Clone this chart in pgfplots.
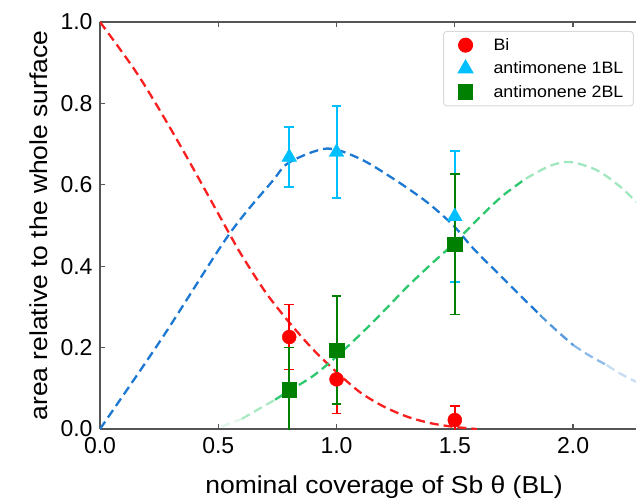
\documentclass[border=0pt]{standalone}
\usepackage{fontspec}
\setmainfont{Liberation Sans}
\newfontfamily\labelfont{Liberation Sans}[FakeStretch=1.08]
\usepackage{pgfplots}
\pgfplotsset{compat=1.18}
\definecolor{bired}{RGB}{255,0,0}
\definecolor{cyanm}{RGB}{0,191,255}
\definecolor{greenm}{RGB}{0,128,0}
\definecolor{curvered}{RGB}{250,30,30}
\definecolor{curveblue}{RGB}{28,120,210}
\definecolor{curvegreen}{RGB}{45,200,110}
\definecolor{axisgray}{RGB}{85,85,85}
\pgfplotsset{
  mylegimg/.style={legend image code/.code={\draw[##1] plot coordinates {(14bp,0bp)}; \path[draw=none, fill=none] (0bp,-1bp) rectangle (40bp,1bp);}},
}
\begin{document}
\begin{tikzpicture}
\begin{axis}[
  scale only axis, width=536bp, height=407bp,
  xmin=0, xmax=2.266, ymin=0, ymax=1,
  axis x line=box, axis y line=left,
  axis line style={-, draw=axisgray, line width=1.4bp},
  tick align=inside,
  major tick length=5bp,
  tick style={axisgray, line width=1.2bp},
  xtick={0,0.5,1,1.5,2}, ytick={0,0.2,0.4,0.6,0.8,1.0},
  minor tick num=0,
  /pgf/number format/assume math mode=true,
  xticklabel style={/pgf/number format/fixed, /pgf/number format/fixed zerofill, /pgf/number format/precision=1, yshift=-5bp},
  yticklabel style={/pgf/number format/fixed, /pgf/number format/fixed zerofill, /pgf/number format/precision=1, xshift=-4bp},
  tick label style={font=\fontsize{23bp}{27bp}\selectfont},
  xlabel={nominal coverage of Sb θ (BL)},
  ylabel={area relative to the whole surface},
  label style={font=\labelfont\fontsize{24.5bp}{29bp}\selectfont},
  xlabel style={at={(axis description cs:0.53,0)}, anchor=base, yshift=-64bp},
  ylabel style={at={(axis description cs:0,0.5)}, anchor=center, yshift=61bp},
  clip marker paths=true,
  legend style={at={(rel axis cs:0.996,0.978)}, anchor=north east,
    draw=black!15, line width=1bp, rounded corners=3bp, fill=white,
    font=\labelfont\fontsize{16.5bp}{20bp}\selectfont,
    row sep=6bp, inner xsep=8bp, inner ysep=5bp},
  legend cell align=left,
]
\coordinate (O) at (rel axis cs:0,0);
\coordinate (T) at (rel axis cs:1,1);
% Bi curve
\addplot[forget plot, curvered, dash pattern=on 9bp off 5bp, line width=2.3bp, smooth]
 coordinates {(0,1) (0.162,0.869) (0.331,0.705) (0.543,0.484) (0.6,0.426) (0.7,0.336) (0.8,0.262) (0.9,0.196) (1.0,0.14) (1.1,0.09) (1.2,0.055) (1.3,0.03) (1.4,0.014) (1.5,0.005) (1.593,0.0)};
% 1BL curve
\addplot[forget plot, curveblue, dash pattern=on 9bp off 5bp, line width=2.3bp, smooth]
 coordinates {(0,0) (0.261,0.222) (0.543,0.476) (0.726,0.607) (0.8,0.655) (0.959,0.689) (1.099,0.664) (1.240,0.615) (1.381,0.558) (1.494,0.50) (1.579,0.443) (1.72,0.361) (1.86,0.28)};
\addplot[forget plot, curveblue, opacity=0.75, dash pattern=on 9bp off 5bp, line width=2.3bp, smooth]
 coordinates {(1.86,0.28) (1.93,0.242) (2.001,0.206)};
\addplot[forget plot, curveblue, opacity=0.5, dash pattern=on 9bp off 5bp, line width=2.3bp, smooth]
 coordinates {(2.001,0.206) (2.07,0.18) (2.142,0.157)};
\addplot[forget plot, curveblue, opacity=0.25, dash pattern=on 9bp off 5bp, line width=2.3bp, smooth]
 coordinates {(2.142,0.157) (2.2,0.136) (2.266,0.116)};
% 2BL curve
\addplot[forget plot, curvegreen, opacity=0.15, dash pattern=on 9bp off 5bp, line width=2.3bp, smooth]
 coordinates {(0.514,0.006) (0.6,0.025)};
\addplot[forget plot, curvegreen, opacity=0.4, dash pattern=on 9bp off 5bp, line width=2.3bp, smooth]
 coordinates {(0.6,0.025) (0.677,0.051) (0.74,0.072)};
\addplot[forget plot, curvegreen, dash pattern=on 9bp off 5bp, line width=2.3bp, smooth]
 coordinates {(0.74,0.072) (0.8,0.094) (0.9,0.13) (1.0,0.178) (1.1,0.232) (1.2,0.29) (1.3,0.35) (1.4,0.405) (1.5,0.458) (1.6,0.517) (1.7,0.572) (1.8,0.615)};
\addplot[forget plot, curvegreen, opacity=0.45, dash pattern=on 9bp off 5bp, line width=2.3bp, smooth]
 coordinates {(1.8,0.615) (1.9,0.646) (1.987,0.656) (2.1,0.636) (2.2,0.595) (2.266,0.558)};
% error bars
\addplot[forget plot, draw=none, mark=none, error bars/.cd, y dir=both, y explicit,
  error bar style={bired, line width=2bp}, error mark options={rotate=90, bired, line width=1.6bp, mark size=4.8bp}]
 coordinates {(0.8,0.226) +- (0,0.08) (1.0,0.122) +- (0,0.084) (1.5,0.022) +- (0,0.034)};
\addplot[forget plot, draw=none, mark=none, error bars/.cd, y dir=both, y explicit,
  error bar style={cyanm, line width=2bp}, error mark options={rotate=90, cyanm, line width=1.6bp, mark size=4.8bp}]
 coordinates {(0.8,0.668) +- (0,0.074) (1.0,0.68) +- (0,0.113) (1.5,0.522) +- (0,0.161)};
\addplot[forget plot, draw=none, mark=none, error bars/.cd, y dir=both, y explicit,
  error bar style={greenm, line width=2bp}, error mark options={rotate=90, greenm, line width=1.6bp, mark size=4.8bp}]
 coordinates {(0.8,0.096) +- (0,0.104) (1.0,0.194) +- (0,0.133) (1.5,0.454) +- (0,0.173)};
% markers
\addplot[only marks, mark=*, mark size=7bp, draw=bired, fill=bired, mylegimg]
 coordinates {(0.8,0.226) (1.0,0.122) (1.5,0.022)};
\addlegendentry{Bi}
\addplot[only marks, mark=triangle*, mark size=8.5bp, draw=cyanm, fill=cyanm, mylegimg]
 coordinates {(0.8,0.668) (1.0,0.68) (1.5,0.522)};
\addlegendentry{antimonene 1BL}
\addplot[only marks, mark=square*, mark size=7.3bp, draw=greenm, fill=greenm, mylegimg]
 coordinates {(0.8,0.096) (1.0,0.194) (1.5,0.454)};
\addlegendentry{antimonene 2BL}
\end{axis}
\pgfresetboundingbox
\path[use as bounding box] ([xshift=-100bp,yshift=-74bp]O) rectangle ([yshift=22bp]T);
\end{tikzpicture}
\end{document}
